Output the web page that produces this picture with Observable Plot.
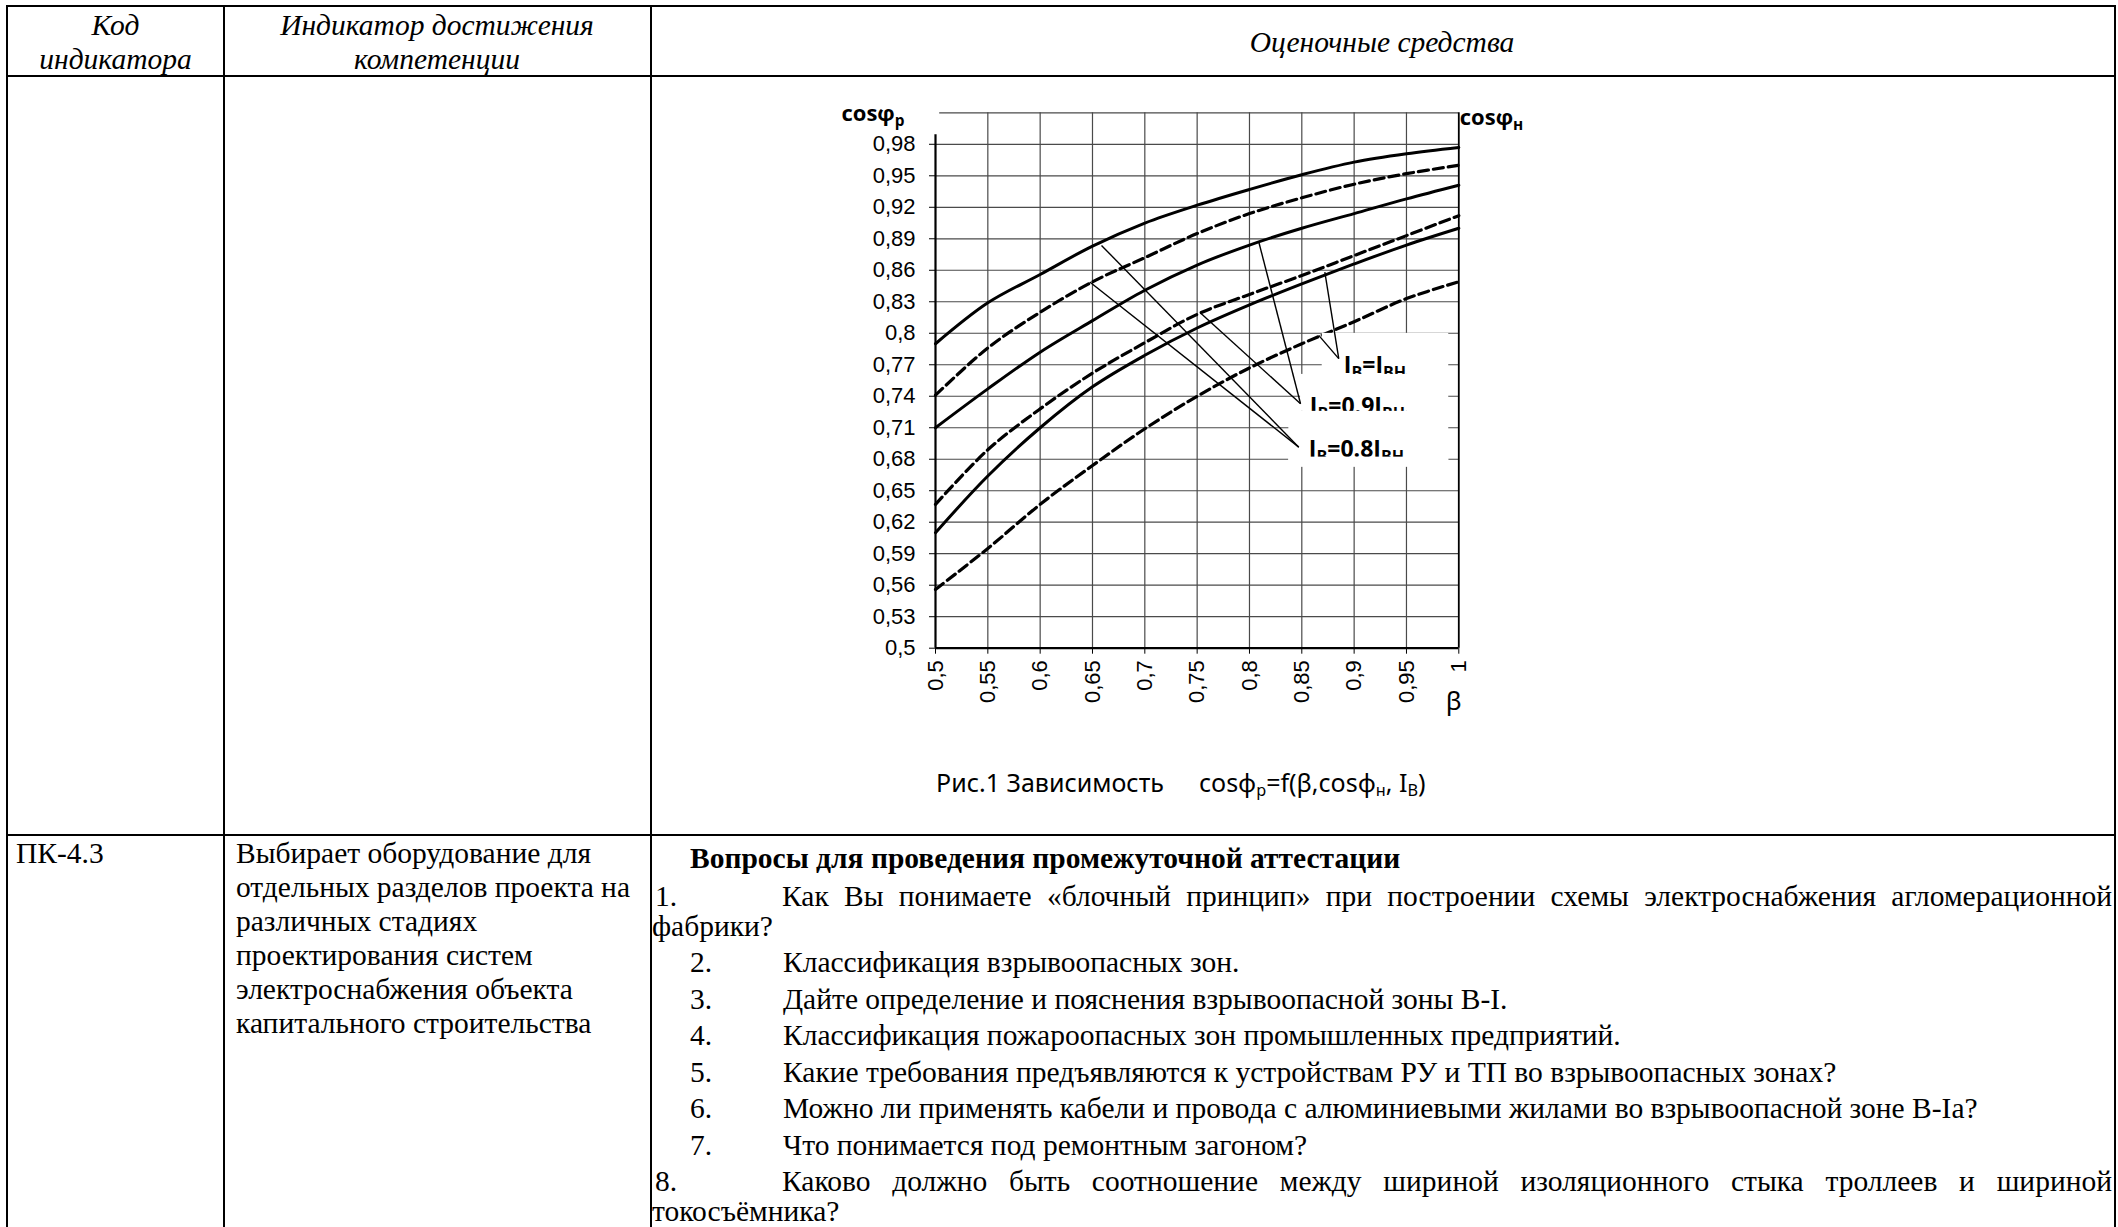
<!DOCTYPE html>
<html><head><meta charset="utf-8">
<script src="https://cdn.jsdelivr.net/npm/d3@7"></script>
<script src="https://cdn.jsdelivr.net/npm/@observablehq/plot@0.6"></script>
<style>
html,body{margin:0;padding:0;background:#fff;}
#page{position:relative;width:2118px;height:1227px;overflow:hidden;background:#fff;}
.ln{position:absolute;background:#000;}
.t{position:absolute;white-space:nowrap;font-family:"Liberation Serif","Times New Roman",serif;font-size:29.5px;line-height:29.5px;color:#000;}
.sub{font-size:0.65em;position:relative;top:0.25em;}
#chart{position:absolute;left:830px;top:95px;}
</style></head><body><div id="page"></div>
<script>
// ---------- data ----------
const betaValues = [0.5, 0.55, 0.6, 0.65, 0.7, 0.75, 0.8, 0.85, 0.9, 0.95, 1];
const curveSolid1  = [0.790, 0.829, 0.856, 0.883, 0.905, 0.922, 0.937, 0.951, 0.963, 0.971, 0.977];
const curveDashed1 = [0.741, 0.786, 0.820, 0.849, 0.872, 0.895, 0.914, 0.929, 0.942, 0.952, 0.960];
const curveSolid2  = [0.710, 0.747, 0.782, 0.812, 0.841, 0.865, 0.884, 0.900, 0.914, 0.928, 0.941];
const curveDashed2 = [0.637, 0.689, 0.728, 0.762, 0.791, 0.818, 0.837, 0.855, 0.874, 0.893, 0.912];
const curveSolid3  = [0.610, 0.664, 0.710, 0.749, 0.779, 0.805, 0.827, 0.847, 0.866, 0.884, 0.900];
const curveDashed3 = [0.556, 0.595, 0.637, 0.674, 0.709, 0.740, 0.767, 0.790, 0.811, 0.833, 0.849];
const solidSeries = [curveSolid1, curveSolid2, curveSolid3];
const dashedSeries = [curveDashed1, curveDashed2, curveDashed3];
const yTickValues = [0.5,0.53,0.56,0.59,0.62,0.65,0.68,0.71,0.74,0.77,0.8,0.83,0.86,0.89,0.92,0.95,0.98];
const yTop = 1.01;
const xTickValues = [0.5,0.55,0.6,0.65,0.7,0.75,0.8,0.85,0.9,0.95,1];
// annotation labels (subscripts in braces) and their anchor points in data units
const labelTexts = ["I{В}=I{ВН}", "I{В}=0.9I{ВН}", "I{В}=0.8I{ВН}"];
const labelBeta = [0.8901, 0.8577, 0.8567];
const labelCos  = [0.7621, 0.7234, 0.682];
// white label boxes [beta1, beta2, cos1, cos2]
const labelBoxes = [[0.8695,0.9904,0.7608,0.7999],[0.8488,0.9904,0.7256,0.7608],[0.8376,0.9904,0.6725,0.7256]];
const labelClip = [0.8376,0.9904,0.6725,0.682];
// leader lines [beta1, cos1, beta2, cos2]
const leaderLines = [
  [0.6586,0.8837,0.8471,0.6915],
  [0.6474,0.8488,0.8471,0.6915],
  [0.8089,0.8869,0.8488,0.7329],
  [0.7532,0.8192,0.8488,0.7329],
  [0.8720,0.8583,0.8853,0.7758],
  [0.8662,0.7980,0.8853,0.7758]
];
const yAxisTitle = "cosφ{р}";
const rightAxisTitle = "cosφ{н}";
const xAxisTitle = "β";

// ---------- page table ----------
const page = document.getElementById("page");
function line(x,y,w,h){const d=document.createElement("div");d.className="ln";Object.assign(d.style,{left:x+"px",top:y+"px",width:w+"px",height:h+"px"});page.appendChild(d);}
function txt(html,x,baseline,opt={}){
  const fs=opt.fs||29.5;
  const d=document.createElement("div");d.className="t";d.innerHTML=html;
  let asc=fs*0.8375;
  if(opt.sans){d.style.fontFamily='"Noto Sans","Open Sans",sans-serif';asc=fs*0.888;}
  d.style.fontSize=fs+"px";d.style.lineHeight=fs+"px";
  if(opt.italic)d.style.fontStyle="italic";
  if(opt.bold)d.style.fontWeight="bold";
  let left=x;
  if(opt.center){d.style.width="1200px";d.style.textAlign="center";left=x-600;}
  if(opt.justify){d.style.whiteSpace="normal";d.style.width=opt.justify+"px";d.style.textAlign="justify";d.style.textAlignLast="justify";}
  d.style.left=left+"px";d.style.top=(baseline-asc)+"px";
  page.appendChild(d);
}
line(6,5,2110,2);line(6,74.5,2110,2);line(6,834,2110,2);
line(6,5,2,1222);line(223,5,2,1222);line(650,5,2,1222);line(2114,5,2,1222);

const headers = [["Код","индикатора",115.5],["Индикатор достижения","компетенции",437]];
headers.forEach(h=>{txt(h[0],h[2],36,{italic:true,center:true});txt(h[1],h[2],70,{italic:true,center:true});});
txt("Оценочные средства",1382,53,{italic:true,center:true});

txt("ПК-4.3",16,864);
const indicatorLines=["Выбирает оборудование для","отдельных разделов проекта на","различных стадиях","проектирования систем","электроснабжения объекта","капитального строительства"];
indicatorLines.forEach((s,i)=>txt(s,236,864+i*34));

txt("Вопросы для проведения промежуточной аттестации",690,869,{bold:true});
const questions=[
 ["1.","Как Вы понимаете «блочный принцип» при построении схемы электроснабжения агломерационной","фабрики?"],
 ["2.","Классификация взрывоопасных зон."],
 ["3.","Дайте определение и пояснения взрывоопасной зоны В-I."],
 ["4.","Классификация пожароопасных зон промышленных предприятий."],
 ["5.","Какие требования предъявляются к устройствам РУ и ТП во взрывоопасных зонах?"],
 ["6.","Можно ли применять кабели и провода с алюминиевыми жилами во взрывоопасной зоне В-Ia?"],
 ["7.","Что понимается под ремонтным загоном?"],
 ["8.","Каково должно быть соотношение между шириной изоляционного стыка троллеев и шириной","токосъёмника?"]
];
let base=907;
questions.forEach(q=>{
  if(q.length===3){
    txt(q[0],655,base);
    txt(q[1],782,base,{justify:2112-782});
    base+=29.5; txt(q[2],652,base);
  } else {
    txt(q[0],690,base); txt(q[1],783,base);
  }
  base+=36.5;
});

// caption
txt("Рис.1 Зависимость",936,792,{sans:true,fs:25});
txt('cosφ<span class="sub">р</span>=f(β,cosφ<span class="sub">н</span>, I<span class="sub">В</span>)',1199,792,{sans:true,fs:25});

// ---------- chart ----------
const rows=[];
solidSeries.forEach((s,k)=>s.forEach((v,i)=>rows.push({beta:betaValues[i],v,series:"s"+k,dashed:false})));
dashedSeries.forEach((s,k)=>s.forEach((v,i)=>rows.push({beta:betaValues[i],v,series:"d"+k,dashed:true})));
const fmt=d=>String(Math.round(d*100)/100).replace(".",",");
const labels=labelTexts.map((t,i)=>({t,b:labelBeta[i],c:labelCos[i]}));
const boxes=labelBoxes.map(b=>({x1:b[0],x2:b[1],y1:b[2],y2:b[3]}));
const leaders=leaderLines.map(l=>({x1:l[0],y1:l[1],x2:l[2],y2:l[3]}));
const gridCol="#4a4a4a";
const labelFont='"Open Sans","Noto Sans",sans-serif';
const labelMarks=[];
labels.forEach((l,i)=>{
  labelMarks.push(Plot.rect([boxes[i]],{x1:"x1",x2:"x2",y1:"y1",y2:"y2",fill:"#fff"}));
  labelMarks.push(Plot.text([l],{x:"b",y:"c",text:"t",textAnchor:"start",lineAnchor:"bottom",fontWeight:"bold",fontFamily:labelFont,fontSize:23,fill:"#000"}));
});
labelMarks.push(Plot.rect([{x1:labelClip[0],x2:labelClip[1],y1:labelClip[2],y2:labelClip[3]}],{x1:"x1",x2:"x2",y1:"y1",y2:"y2",fill:"#fff"}));

const svg=Plot.plot({
  width:720,height:640,
  marginLeft:105,marginRight:91.7,marginTop:17.3,marginBottom:87.3,
  x:{domain:[0.5,1],ticks:xTickValues,tickFormat:fmt,tickRotate:-90,tickSize:6,tickPadding:6,label:null},
  y:{domain:[0.5,yTop],ticks:yTickValues,tickFormat:fmt,tickSize:6,tickPadding:14,label:null},
  style:{background:"transparent",color:"#000",fontFamily:'"Liberation Sans",Arial,sans-serif',fontSize:"22px",overflow:"visible"},
  marks:[
    Plot.ruleY(yTickValues.slice(1),{stroke:gridCol,strokeWidth:1.2}),
    Plot.ruleY([yTop],{x1:0.504,x2:1,stroke:gridCol,strokeWidth:1.2}),
    Plot.ruleX(xTickValues.slice(1,-1),{y1:0.5,y2:yTop,stroke:gridCol,strokeWidth:1.2}),
    Plot.line(rows.filter(d=>!d.dashed),{x:"beta",y:"v",z:"series",curve:"catmull-rom",stroke:"#000",strokeWidth:3}),
    Plot.line(rows.filter(d=>d.dashed),{x:"beta",y:"v",z:"series",curve:"catmull-rom",stroke:"#000",strokeWidth:3.2,strokeDasharray:"10,5"}),
    ...labelMarks,
    Plot.link(leaders,{x1:"x1",y1:"y1",x2:"x2",y2:"y2",stroke:"#000",strokeWidth:1.4}),
    Plot.ruleX([1],{y1:0.5,y2:yTop,stroke:"#000",strokeWidth:1.8}),
    Plot.ruleX([0.5],{y1:0.5,y2:0.989,stroke:"#000",strokeWidth:2.2}),
    Plot.ruleY([0.5],{x1:0.5,x2:1,stroke:"#000",strokeWidth:2.2}),
    Plot.text([yAxisTitle],{frameAnchor:"top-left",dx:-94,dy:7.7,textAnchor:"start",lineAnchor:"bottom",fontWeight:"bold",fontFamily:labelFont,fontSize:22,fill:"#000"}),
    Plot.text([rightAxisTitle],{frameAnchor:"top-right",dx:1,dy:11.7,textAnchor:"start",lineAnchor:"bottom",fontWeight:"bold",fontFamily:labelFont,fontSize:22,fill:"#000"}),
    Plot.text([xAxisTitle],{frameAnchor:"bottom-right",dx:-5,dy:62,textAnchor:"middle",lineAnchor:"bottom",fontFamily:'"Noto Sans",sans-serif',fontSize:26,fill:"#000"})
  ]
});
svg.id="chart";
// convert brace markup to subscripts
const svgns="http://www.w3.org/2000/svg";
d3.select(svg).selectAll("text").each(function(){
  const el=this; const s=el.textContent; if(!s.includes("{"))return;
  const shift=5; el.textContent=""; let shifted=false;
  const re=/\{([^}]*)\}|([^{]+)/g; let m;
  while((m=re.exec(s))){
    const ts=document.createElementNS(svgns,"tspan");
    if(m[1]!==undefined){ts.textContent=m[1];ts.setAttribute("font-size","70%");if(!shifted){ts.setAttribute("dy",shift);shifted=true;}}
    else{ts.textContent=m[2];if(shifted){ts.setAttribute("dy",-shift);shifted=false;}}
    el.appendChild(ts);
  }
});
page.appendChild(svg);
</script></body></html>
